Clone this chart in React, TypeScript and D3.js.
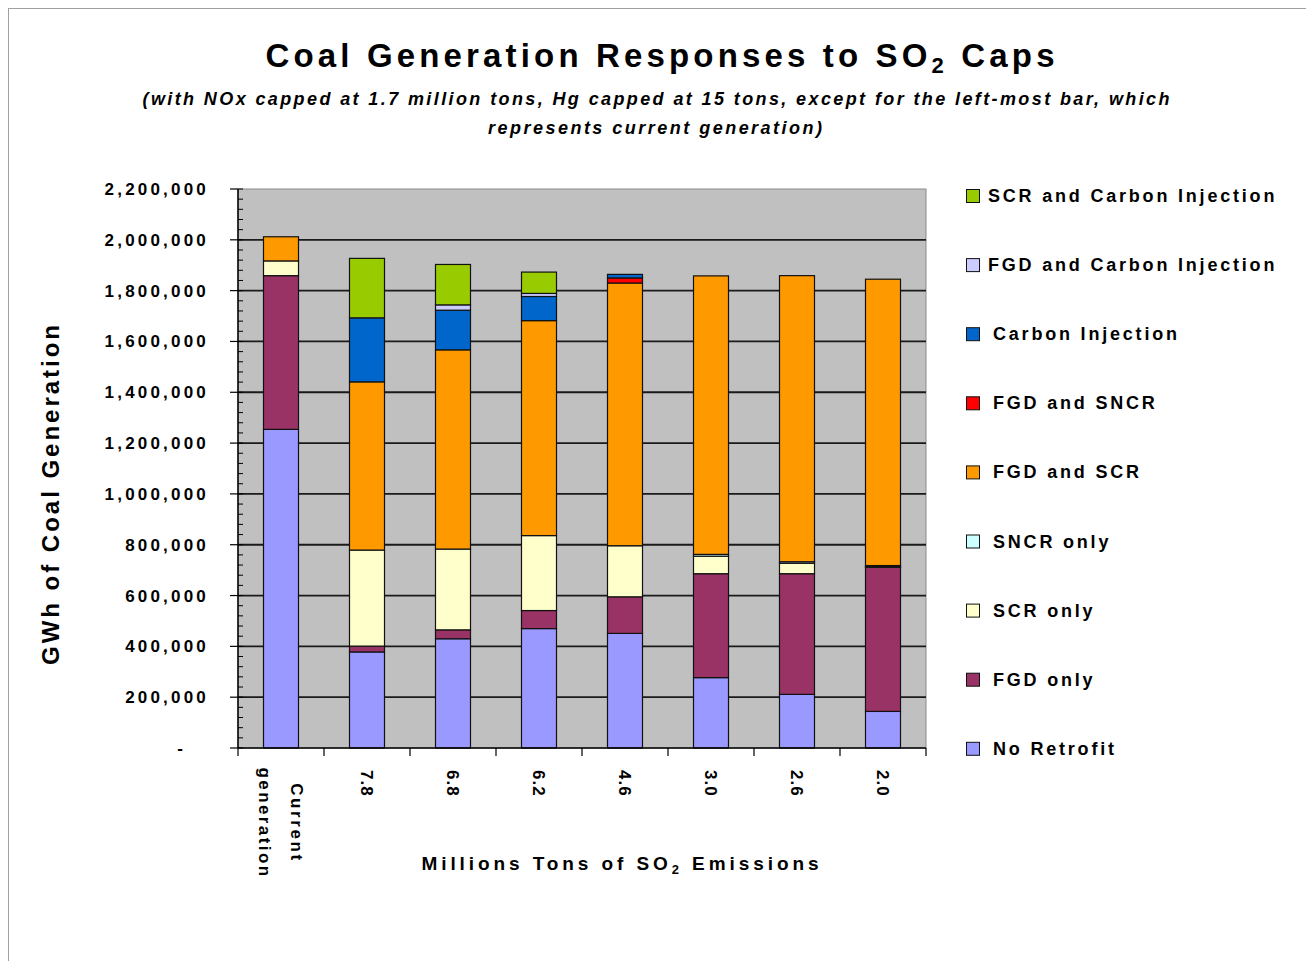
import React from 'react';
import * as d3 from 'd3';

const categories = ["Current generation", "7.8", "6.8", "6.2", "4.6", "3.0", "2.6", "2.0"];
const noRetrofit = [1254000, 378000, 430000, 470000, 451000, 277000, 211000, 144000];
const fgdOnly = [605000, 23000, 35000, 71000, 144000, 409000, 475000, 567000];
const scrOnly = [58000, 378000, 318000, 295000, 201000, 69000, 41000, 3000];
const sncrOnly = [0, 0, 0, 0, 0, 7000, 6000, 4000];
const fgdAndScr = [95000, 662000, 784000, 846000, 1034000, 1096000, 1126000, 1127000];
const fgdAndSncr = [0, 0, 0, 0, 20000, 0, 0, 0];
const carbonInjection = [0, 252000, 156000, 95000, 14000, 0, 0, 0];
const fgdAndCarbon = [0, 0, 21000, 12000, 0, 0, 0, 0];
const scrAndCarbon = [0, 234000, 159000, 84000, 0, 0, 0, 0];

const seriesNames = [
  "No Retrofit", "FGD only", "SCR only", "SNCR only", "FGD and SCR",
  "FGD and SNCR", "Carbon Injection", "FGD and Carbon Injection", "SCR and Carbon Injection",
];
const seriesValues = [noRetrofit, fgdOnly, scrOnly, sncrOnly, fgdAndScr, fgdAndSncr, carbonInjection, fgdAndCarbon, scrAndCarbon];
const seriesColors = ["#9999FF", "#993366", "#FFFFCC", "#CCFFFF", "#FF9900", "#FF0000", "#0066CC", "#CCCCFF", "#99CC00"];
const yTickValues = [0, 200000, 400000, 600000, 800000, 1000000, 1200000, 1400000, 1600000, 1800000, 2000000, 2200000];

const FONT = "'Liberation Sans', Arial, Helvetica, sans-serif";
const W = 1306, H = 961;
const PL = 238, PR = 926, PT = 189, PB = 748;

export default function App() {
  const x = d3.scaleBand<string>().domain(categories).range([PL, PR]).paddingInner(0.593).paddingOuter(0.2965);
  const xCat = d3.scaleBand<string>().domain(categories).range([PL, PR]).padding(0);
  const y = d3.scaleLinear().domain([0, 2200000]).range([PB, PT]);

  const rows = categories.map((c, i) => {
    const o: any = { cat: c };
    seriesNames.forEach((s, k) => (o[s] = seriesValues[k][i]));
    return o;
  });
  const stacked = d3.stack<any>().keys(seriesNames)(rows);

  const minor = d3.range(0, 2200001, 40000);
  const fmt = d3.format(",");
  const boundaries = categories.map((c) => xCat(c) as number).concat([PR]);

  return (
    <svg width={W} height={H} style={{ position: 'absolute', left: 0, top: 0, background: '#fff' }} fontFamily={FONT}>
      <rect x={0} y={0} width={W} height={H} fill="#fff" />
      <rect x={8.5} y={8.5} width={W + 10} height={H + 10} fill="none" stroke="#a0a0a0" strokeWidth={1} />

      {/* Title */}
      <text x={660} y={67} textAnchor="middle" fontSize={33} fontWeight="bold" fill="#000" textLength={789} lengthAdjust="spacing">
        Coal Generation Responses to SO<tspan fontSize={22} dy={6}>2</tspan><tspan dy={-6}> Caps</tspan>
      </text>
      <text x={656} y={105} textAnchor="middle" fontSize={18} fontWeight="bold" fontStyle="italic" fill="#000" textLength={1027} lengthAdjust="spacing">
        (with NOx capped at 1.7 million tons, Hg capped at 15 tons, except for the left-most bar, which
      </text>
      <text x={655} y={134} textAnchor="middle" fontSize={18} fontWeight="bold" fontStyle="italic" fill="#000" textLength={334} lengthAdjust="spacing">
        represents current generation)
      </text>

      {/* Plot area */}
      <rect x={PL} y={PT} width={PR - PL} height={PB - PT} fill="#C0C0C0" stroke="#8a8a8a" strokeWidth={1} />
      {yTickValues.filter((v) => v > 0 && v < 2200000).map((v) => (
        <line key={v} x1={PL} x2={PR} y1={y(v)} y2={y(v)} stroke="#1a1a1a" strokeWidth={1.8} />
      ))}

      {/* Bars */}
      {stacked.map((layer, k) => (
        <g key={layer.key} fill={seriesColors[k]}>
          {layer.filter((d) => d[1] - d[0] > 0).map((d) => (
            <rect key={d.data.cat} x={x(d.data.cat)} width={x.bandwidth()} y={y(d[1])} height={y(d[0]) - y(d[1])} stroke="#111" strokeWidth={1.2} />
          ))}
        </g>
      ))}

      {/* Y axis */}
      <line x1={PL} x2={PL} y1={PT} y2={PB} stroke="#000" strokeWidth={1.5} />
      {minor.map((v) => (
        <line key={'m' + v} x1={PL} x2={PL + 5} y1={y(v)} y2={y(v)} stroke="#000" strokeWidth={1} />
      ))}
      {yTickValues.map((v) => (
        <g key={'t' + v}>
          <line x1={PL - 8} x2={PL} y1={y(v)} y2={y(v)} stroke="#000" strokeWidth={1.2} />
          <text x={v === 0 ? 183 : 209} y={y(v) + 6} textAnchor="end" fontSize={17} fontWeight="bold" letterSpacing={v === 0 ? 0 : 3.2} fill="#000">
            {v === 0 ? '-' : fmt(v)}
          </text>
        </g>
      ))}
      <text transform="translate(59,495) rotate(-90)" textAnchor="middle" fontSize={24} fontWeight="bold" fill="#000" textLength={340} lengthAdjust="spacing">
        GWh of Coal Generation
      </text>

      {/* X axis */}
      <line x1={PL} x2={PR} y1={PB} y2={PB} stroke="#000" strokeWidth={1.5} />
      {boundaries.map((b, i) => (
        <line key={'xb' + i} x1={b} x2={b} y1={PB} y2={PB + 8} stroke="#000" strokeWidth={1.2} />
      ))}
      {categories.map((c) => {
        const cx = (xCat(c) as number) + xCat.bandwidth() / 2;
        if (c.includes(' ')) {
          const parts = c.split(' ');
          return (
            <g key={c}>
              <text transform={`translate(${cx + 16},823) rotate(90)`} textAnchor="middle" dy="0.35em" fontSize={17} fontWeight="bold" letterSpacing={2.6} fill="#000">{parts[0]}</text>
              <text transform={`translate(${cx - 16},823) rotate(90)`} textAnchor="middle" dy="0.35em" fontSize={17} fontWeight="bold" letterSpacing={2.4} fill="#000">{parts[1]}</text>
            </g>
          );
        }
        return (
          <text key={c} transform={`translate(${cx},770) rotate(90)`} textAnchor="start" dy="0.35em" fontSize={17} fontWeight="bold" letterSpacing={1} fill="#000">{c}</text>
        );
      })}
      <text x={620} y={870} textAnchor="middle" fontSize={19} fontWeight="bold" fill="#000" textLength={397} lengthAdjust="spacing">
        Millions Tons of SO<tspan fontSize={13} dy={4}>2</tspan><tspan dy={-4}> Emissions</tspan>
      </text>

      {/* Legend */}
      {seriesNames.slice().reverse().map((s, i) => {
        const k = seriesNames.length - 1 - i;
        const base = 202 + i * 69.1;
        return (
          <g key={s}>
            <rect x={966.5} y={base - 12.5} width={13} height={13} fill={seriesColors[k]} stroke="#111" strokeWidth={1} />
            <text x={i < 2 ? 988 : 993} y={base} fontSize={18} fontWeight="bold" letterSpacing={2.8} fill="#000">{s}</text>
          </g>
        );
      })}
    </svg>
  );
}
